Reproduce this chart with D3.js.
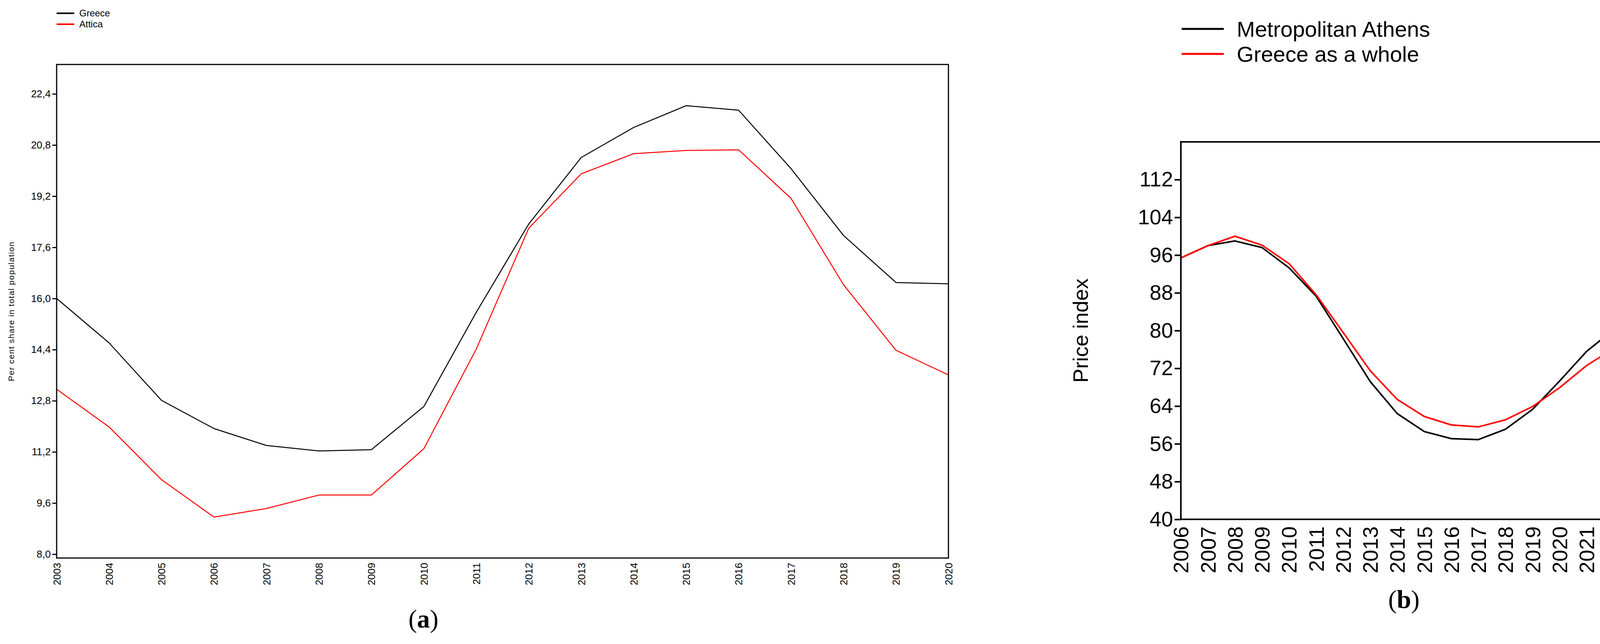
<!DOCTYPE html>
<html>
<head>
<meta charset="utf-8">
<script src="https://cdn.jsdelivr.net/npm/d3@7"></script>
<style>
  body { margin: 0; background: #fff; }
  svg { display: block; }
</style>
</head>
<body>
<svg id="chart" width="4175" height="1648"></svg>
<script>
// panel (a): share of population, 2003-2020
var yearsA = d3.range(2003, 2021);
var greeceA = [16.0, 14.61, 12.81, 11.93, 11.40, 11.23, 11.27, 12.62, 15.57, 18.33, 20.41, 21.35, 22.03, 21.89, 20.06, 17.97, 16.50, 16.46];
var atticaA = [13.16, 11.98, 10.33, 9.16, 9.43, 9.85, 9.85, 11.30, 14.42, 18.2, 19.9, 20.53, 20.63, 20.65, 19.13, 16.43, 14.38, 13.61];
var ticksA = [8.0, 9.6, 11.2, 12.8, 14.4, 16.0, 17.6, 19.2, 20.8, 22.4];

// panel (b): price index, 2006-2022
var yearsB = d3.range(2006, 2023);
var athensB = [95.4, 98.0, 99.0, 97.6, 93.3, 87.3, 78.3, 69.2, 62.4, 58.6, 57.1, 56.9, 59.1, 63.3, 69.3, 75.6, 80.2];
var greeceB = [95.4, 98.0, 100.0, 98.1, 94.2, 87.6, 79.6, 71.5, 65.4, 61.8, 60.0, 59.6, 61.1, 63.9, 67.9, 72.6, 76.2];
var ticksB = [40, 48, 56, 64, 72, 80, 88, 96, 104, 112];

var svg = d3.select("#chart");
var narrow = "'Liberation Sans Narrow', 'Liberation Sans', Arial, sans-serif";
var sans = "'Liberation Sans', Arial, sans-serif";

function drawPanel(o) {
    var g = svg.append("g");
    var x = d3.scaleLinear().domain(d3.extent(o.years)).range([o.left, o.right]);
    var y = d3.scaleLinear().domain(o.yDomain).range([o.bottom, o.top]);

    o.series.forEach(function (s) {
        g.append("path")
            .datum(s.values)
            .attr("fill", "none")
            .attr("stroke", s.color)
            .attr("stroke-width", o.lineWidth)
            .attr("stroke-linejoin", "round")
            .attr("d", d3.line().x(function (d, i) { return x(o.years[i]); }).y(function (d) { return y(d); }));
    });

    g.append("rect")
        .attr("x", o.left).attr("y", o.top)
        .attr("width", o.right - o.left).attr("height", o.bottom - o.top)
        .attr("fill", "none").attr("stroke", "#000").attr("stroke-width", o.boxWidth);

    var yAxis = g.append("g")
        .attr("transform", "translate(" + o.left + ",0)")
        .call(d3.axisLeft(y).tickValues(o.yTicks).tickSize(o.tickLen).tickPadding(4).tickFormat(o.yFormat));
    yAxis.select(".domain").remove();
    yAxis.selectAll("line").attr("stroke-width", o.boxWidth);
    yAxis.selectAll("text").attr("font-family", o.font).attr("font-size", o.tickFont).attr("fill", "#000");

    var xAxis = g.append("g")
        .attr("transform", "translate(0," + o.bottom + ")")
        .call(d3.axisBottom(x).tickValues(o.years).tickSize(0).tickFormat(d3.format("d")));
    xAxis.select(".domain").remove();
    xAxis.selectAll("text")
        .attr("font-family", o.font).attr("font-size", o.xFont).attr("fill", "#000")
        .attr("transform", "rotate(-90)")
        .attr("text-anchor", "end")
        .attr("x", -o.xGap).attr("y", 0).attr("dy", "0.35em");

    g.append("text")
        .attr("transform", "translate(" + o.yLabelX + "," + ((o.top + o.bottom) / 2) + ") rotate(-90)")
        .attr("text-anchor", "middle")
        .attr("font-family", o.labelFont).attr("font-size", o.yLabelSize)
        .attr("letter-spacing", o.yLabelSpacing)
        .text(o.yLabel);

    o.series.forEach(function (s, i) {
        var ly = o.legendY + i * o.legendStep;
        g.append("line")
            .attr("x1", o.legendX).attr("x2", o.legendX + o.legendLen)
            .attr("y1", ly).attr("y2", ly)
            .attr("stroke", s.color).attr("stroke-width", o.legendStroke);
        g.append("text")
            .attr("x", o.legendX + o.legendLen + o.legendGap).attr("y", ly)
            .attr("dy", "0.35em")
            .attr("font-family", o.font).attr("font-size", o.legendFont)
            .text(s.name);
    });

    var cap = g.append("text")
        .attr("x", o.capX).attr("y", o.capY)
        .attr("text-anchor", "middle")
        .attr("font-family", "'Liberation Serif', 'Times New Roman', serif")
        .attr("font-size", 66);
    cap.append("tspan").text("(");
    cap.append("tspan").attr("font-weight", "bold").text(o.cap);
    cap.append("tspan").text(")");
}

drawPanel({
    years: yearsA, yDomain: [7.88, 23.32], yTicks: ticksA,
    yFormat: function (d) { return d3.format(".1f")(d).replace(".", ","); },
    left: 145, right: 2428, top: 165, bottom: 1428,
    lineWidth: 2.5, boxWidth: 3, tickLen: 11,
    font: narrow, tickFont: 26, xFont: 26, xGap: 12,
    labelFont: sans, yLabelX: 36, yLabelSize: 21, yLabelSpacing: 1.5,
    yLabel: "Per cent share in total population",
    series: [{ name: "Greece", color: "#000", values: greeceA }, { name: "Attica", color: "#ff0000", values: atticaA }],
    legendX: 145, legendY: 34, legendStep: 28, legendLen: 45, legendGap: 13, legendStroke: 4, legendFont: 24,
    capX: 1084, capY: 1606, cap: "a"
});

drawPanel({
    years: yearsB, yDomain: [40, 120], yTicks: ticksB,
    yFormat: d3.format("d"),
    left: 3023, right: 4131, top: 363, bottom: 1329,
    lineWidth: 4, boxWidth: 4, tickLen: 16,
    font: sans, tickFont: 54, xFont: 54, xGap: 18,
    labelFont: sans, yLabelX: 2785, yLabelSize: 54, yLabelSpacing: 0,
    yLabel: "Price index",
    series: [{ name: "Metropolitan Athens", color: "#000", values: athensB }, { name: "Greece as a whole", color: "#ff0000", values: greeceB }],
    legendX: 3025, legendY: 74, legendStep: 64, legendLen: 108, legendGap: 33, legendStroke: 5, legendFont: 56,
    capX: 3594, capY: 1556, cap: "b"
});
</script>
</body>
</html>
